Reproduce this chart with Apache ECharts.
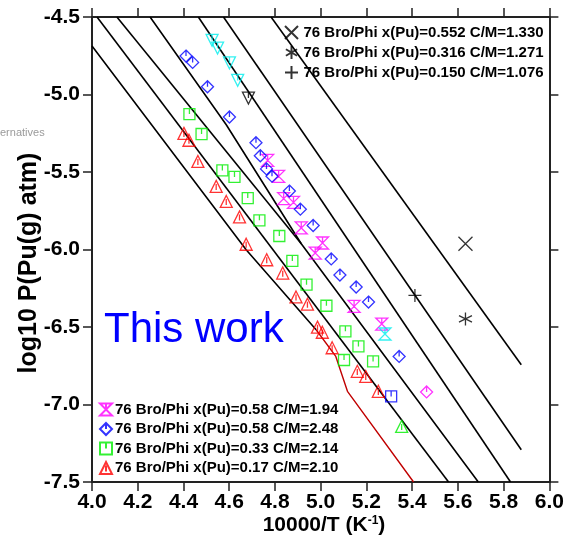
<!DOCTYPE html>
<html>
<head>
<meta charset="utf-8">
<script src="https://cdn.jsdelivr.net/npm/echarts@6/dist/echarts.min.js"></script>
<style>
html,body{margin:0;padding:0;background:#fff;}
#chart{width:567px;height:557px;}
</style>
</head>
<body>
<div id="chart"></div>
<script>
// ---- axis ticks ----
const xTicks = [4.0, 4.2, 4.4, 4.6, 4.8, 5.0, 5.2, 5.4, 5.6, 5.8, 6.0];
const yTicks = [-7.5, -7.0, -6.5, -6.0, -5.5, -5.0, -4.5];

// ---- legend names ----
const nameX    = '76 Bro/Phi x(Pu)=0.552 C/M=1.330';
const nameStar = '76 Bro/Phi x(Pu)=0.316 C/M=1.271';
const namePlus = '76 Bro/Phi x(Pu)=0.150 C/M=1.076';
const nameMag  = '76 Bro/Phi x(Pu)=0.58 C/M=1.94';
const nameBlue = '76 Bro/Phi x(Pu)=0.58 C/M=2.48';
const nameGrn  = '76 Bro/Phi x(Pu)=0.33 C/M=2.14';
const nameRed  = '76 Bro/Phi x(Pu)=0.17 C/M=2.10';

// ---- data points (10000/T, log10 P) ----
const ptsX    = [[5.633, -5.963]];
const ptsStar = [[5.633, -6.448]];
const ptsPlus = [[5.412, -6.296]];

const ptsMagenta = [[4.768,-5.425],[4.816,-5.528],[4.838,-5.672],[4.881,-5.696],[4.915,-5.861],
  [5.008,-5.958],[4.976,-6.023],[5.146,-6.367],[5.267,-6.481]];
const ptsBlue = [[4.411,-4.752],[4.440,-4.793],[4.505,-4.950],[4.601,-5.145],[4.717,-5.311],
  [4.736,-5.395],[4.763,-5.480],[4.787,-5.527],[4.863,-5.623],[4.911,-5.740],[4.967,-5.845],
  [5.046,-6.061],[5.084,-6.165],[5.155,-6.242],[5.209,-6.339],[5.343,-6.690]];
const ptsGreen = [[4.426,-5.126],[4.479,-5.255],[4.570,-5.490],[4.623,-5.532],[4.681,-5.668],
  [4.732,-5.812],[4.819,-5.913],[4.876,-6.074],[4.938,-6.227],[5.025,-6.363],[5.108,-6.528],
  [5.165,-6.625],[5.102,-6.713],[5.229,-6.722]];
const ptsRed = [[4.402,-5.251],[4.424,-5.295],[4.463,-5.432],[4.543,-5.593],[4.587,-5.690],
  [4.645,-5.790],[4.674,-5.966],[4.764,-6.066],[4.834,-6.152],[4.892,-6.306],[4.942,-6.353],
  [4.986,-6.501],[5.007,-6.534],[5.050,-6.634],[5.160,-6.786],[5.197,-6.819],[5.252,-6.915]];

// unlabeled extra points
const ptsCyanDown  = [[4.525,-4.651],[4.549,-4.701],[4.601,-4.796],[4.637,-4.909]];
const ptsBlackDown = [[4.684,-5.023]];
const ptsCyanHour  = [[5.281,-6.545]];
const ptsMagDiam   = [[5.463,-6.919]];
const ptsBlueSq    = [[5.308,-6.948]];
const ptsGreenTri  = [[5.354,-7.141]];

// ---- calculated curves ----
const lineG = [[4.0,-4.687],[4.674,-6.001],[4.980,-6.518]];
const lineRed = [[4.980,-6.518],[5.066,-6.690],[5.117,-6.915],[5.406,-7.5]];
const lineA = [[4.022,-4.5],[5.559,-7.5]];
const lineB = [[4.109,-4.5],[4.915,-5.963]];
const lineC = [[4.254,-4.5],[4.587,-5.195],[4.915,-5.963],[5.689,-7.5]];
const lineD = [[4.465,-4.5],[5.830,-7.5]];
const lineE = [[4.575,-4.5],[5.877,-7.292]];
const lineF = [[4.783,-4.5],[5.877,-6.743]];

// ---- symbol shapes ----
const symDiamond = 'path://M5 0L10 5L5 10L0 5Z M5 0L5 5';
const symSquare  = 'path://M0 0L10 0L10 10L0 10Z M5 0L5 5';
const symTriUp   = 'path://M5 0L10 10L0 10Z M5 3L5 8';
const symTriDown = 'path://M0 0L10 0L5 10Z M5 0L5 5';
const symHour    = 'path://M0 0L10 0L5 5L10 10L0 10L5 5Z M5 0L5 5';
const symX       = 'path://M0 0L10 10M10 0L0 10';
const symStar    = 'path://M5 0L5 10M0.7 2.5L9.3 7.5M9.3 2.5L0.7 7.5';
const symPlus    = 'path://M5 0L5 10M0 5L10 5';

const FONT = '"Liberation Sans", Arial, Helvetica, sans-serif';

function scat(name, data, sym, color, size, z) {
  return {
    type: 'scatter', name: name, data: data, symbol: sym, symbolSize: size,
    itemStyle: { color: 'rgba(0,0,0,0)', borderColor: color, borderWidth: 1.3 },
    z: z || 3, silent: true
  };
}
function line(data, color, width) {
  return {
    type: 'line', data: data, showSymbol: false, symbol: 'none', silent: true,
    lineStyle: { color: color, width: width }, z: 2, clip: true
  };
}

const chart = echarts.init(document.getElementById('chart'), null, {renderer: 'canvas'});
const axisCommon = {
  axisLine: { show: true, onZero: false, lineStyle: { color: '#222', width: 2 } },
  axisTick: { show: true, inside: false, length: 9, lineStyle: { color: '#222', width: 1.5 } },
  splitLine: { show: false }
};
chart.setOption({
  animation: false,
  backgroundColor: '#fff',
  grid: { left: 92, right: 16, top: 17, bottom: 75 },
  xAxis: [
    Object.assign({
      type: 'value', min: 4.0, max: 6.0, interval: 0.2, position: 'bottom',
      axisLabel: { fontFamily: FONT, fontWeight: 'bold', fontSize: 21, color: '#000', margin: 10,
        formatter: v => v.toFixed(1) }
    }, axisCommon),
    Object.assign({
      type: 'value', min: 4.0, max: 6.0, interval: 0.2, position: 'top',
      axisLabel: { show: false }
    }, axisCommon)
  ],
  yAxis: [
    Object.assign({
      type: 'value', min: -7.5, max: -4.5, interval: 0.5, position: 'left',
      axisLabel: { fontFamily: FONT, fontWeight: 'bold', fontSize: 21, color: '#000', margin: 12,
        formatter: v => v.toFixed(1) }
    }, axisCommon),
    Object.assign({
      type: 'value', min: -7.5, max: -4.5, interval: 0.5, position: 'right',
      axisLabel: { show: false }
    }, axisCommon)
  ],
  legend: [
    {
      data: [nameX, nameStar, namePlus], orient: 'vertical', left: 279, top: 20,
      itemWidth: 14, itemHeight: 13, itemGap: 5, selectedMode: false,
      textStyle: { fontFamily: FONT, fontWeight: 'bold', fontSize: 15, color: '#000' }
    },
    {
      data: [nameMag, nameBlue, nameGrn, nameRed], orient: 'vertical', left: 94, top: 397,
      itemWidth: 12, itemHeight: 12, itemGap: 4.5, selectedMode: false,
      textStyle: { fontFamily: FONT, fontWeight: 'bold', fontSize: 15, color: '#000', padding: [0,0,0,-2] }
    }
  ],
  graphic: [
    { type: 'text', x: 29, y: 263, rotation: Math.PI / 2, silent: true,
      style: { text: 'log10 P(Pu(g) atm)', fontFamily: FONT, fontWeight: 'bold', fontSize: 25,
        fill: '#000', align: 'center', verticalAlign: 'middle' } },
    { type: 'text', x: 324, y: 525, silent: true,
      style: { text: '10000/T (K{sup|-1})', fontFamily: FONT, fontWeight: 'bold', fontSize: 21,
        fill: '#000', align: 'center', verticalAlign: 'middle',
        rich: { sup: { fontFamily: FONT, fontWeight: 'bold', fontSize: 12, fill: '#000',
          verticalAlign: 'top', padding: [0, 0, 9, 0] } } } },
    { type: 'text', left: 104, top: 309, silent: true,
      style: { text: 'This work', fontFamily: FONT, fontSize: 42, fill: '#0000ff' } },
    { type: 'text', left: 0, top: 127, silent: true,
      style: { text: 'ernatives', fontFamily: FONT, fontSize: 11, fill: '#9a9a9a' } }
  ],
  series: [
    line(lineG, '#000', 1.6),
    line(lineRed, '#c00000', 1.4),
    line(lineA, '#000', 1.6),
    line(lineB, '#000', 1.6),
    line(lineC, '#000', 1.6),
    line(lineD, '#000', 1.6),
    line(lineE, '#000', 1.6),
    line(lineF, '#000', 1.6),
    scat(nameX, ptsX, symX, '#000', 14),
    scat(nameStar, ptsStar, symStar, '#000', 13),
    scat(namePlus, ptsPlus, symPlus, '#000', 13),
    scat(nameMag, ptsMagenta, symHour, '#ff00ff', 12),
    scat(nameBlue, ptsBlue, symDiamond, '#0000ff', 12),
    scat(nameGrn, ptsGreen, symSquare, '#00ee00', 11),
    scat(nameRed, ptsRed, symTriUp, '#ff0000', 12),
    scat('cyanDown', ptsCyanDown, symTriDown, '#00eeee', 12),
    scat('blackDown', ptsBlackDown, symTriDown, '#000', 12),
    scat('cyanHour', ptsCyanHour, symHour, '#00eeee', 12),
    scat('magDiam', ptsMagDiam, symDiamond, '#ff00ff', 12),
    scat('blueSq', ptsBlueSq, symSquare, '#0000ff', 11),
    scat('greenTri', ptsGreenTri, symTriUp, '#00ee00', 12)
  ]
});
</script>
</body>
</html>
